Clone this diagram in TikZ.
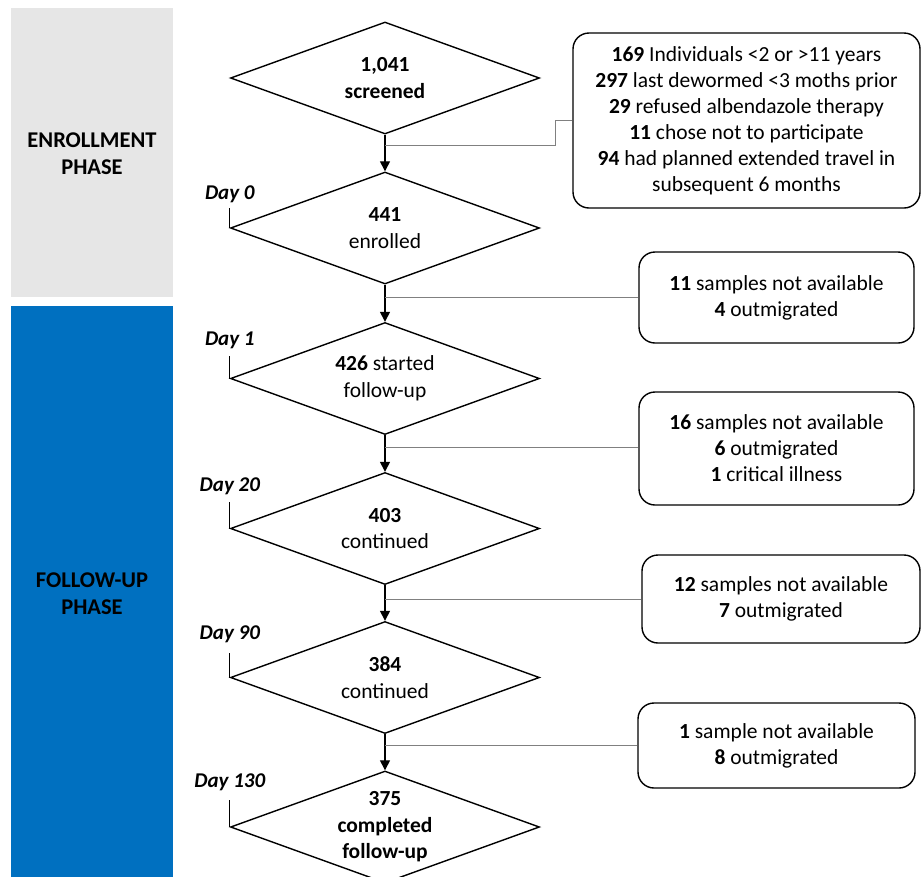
\documentclass[tikz,border=0pt]{standalone}
\usepackage{fontspec}
\setmainfont{Carlito}
\usetikzlibrary{shapes.geometric,arrows.meta}

\definecolor{phasegray}{HTML}{E6E6E6}
\definecolor{phaseblue}{HTML}{0070C0}

\begin{document}
\begin{tikzpicture}[x=1pt,y=-1pt,
        stage/.style={draw, diamond, aspect=2.76, line width=1.4pt, minimum width=309pt, minimum height=112pt, inner sep=0pt, align=center, font=\fontsize{21.5}{26.5}\selectfont},
        lossbox/.style={draw, rounded corners=16pt, line width=1.4pt, align=center, font=\fontsize{21.5}{26}\selectfont},
        flow/.style={line width=1.3pt, -{Triangle[length=10pt,width=10pt]}},
        branch/.style={draw=gray, line width=1pt},
        daylabel/.style={font=\bfseries\itshape\fontsize{21}{25}\selectfont, inner sep=2pt}]
        \clip (0,0) rectangle (921,876);
        
        % Phase boxes
        \node[fill=phasegray, minimum width=162pt, minimum height=289pt] (enrollphase) at (92,152.5) {};
        \node[align=center, font=\bfseries\fontsize{22.5}{27}\selectfont] at (92,153.5) {ENROLLMENT\\PHASE};
        \node[fill=phaseblue, minimum width=162pt, minimum height=580pt] (followphase) at (92,596) {};
        \node[align=center, font=\bfseries\fontsize{22.5}{27}\selectfont] at (92,593.5) {FOLLOW-UP\\PHASE};
        
        % Flow diamonds
        \node[stage] (screened) at (385,78) {\textbf{1,041}\\\textbf{screened}};
        \node[stage] (enrolled) at (385,228) {\textbf{441}\\enrolled};
        \node[stage] (started) at (385,378.5) {\textbf{426} started\\follow-up};
        \node[stage] (day20) at (385,528.5) {\textbf{403}\\continued};
        \node[stage] (day90) at (385,677.5) {\textbf{384}\\continued};
        \node[stage] (completed) at (385,827) {\textbf{375}\\\textbf{completed}\\\textbf{follow-up}};
        
        % Exclusion and loss boxes
        \node[lossbox, minimum width=347pt, minimum height=175pt] (excluded) at (746.5,120.5) {
            \textbf{169} Individuals <2 or >11 years\\
            \textbf{297} last dewormed <3 moths prior\\
            \textbf{29} refused albendazole therapy\\
            \textbf{11} chose not to participate\\
            \textbf{94} had planned extended travel in\\
            subsequent 6 months
        };
        \node[lossbox, minimum width=275pt, minimum height=91pt] (lost1) at (776.5,297.5) {
            \textbf{11} samples not available\\
            \textbf{4} outmigrated
        };
        \node[lossbox, minimum width=275pt, minimum height=113pt] (lost20) at (776.5,448.5) {
            \textbf{16} samples not available\\
            \textbf{6} outmigrated\\
            \textbf{1} critical illness
        };
        \node[lossbox, minimum width=278pt, minimum height=88pt] (lost90) at (781,599) {
            \textbf{12} samples not available\\
            \textbf{7} outmigrated
        };
        \node[lossbox, minimum width=277pt, minimum height=85pt] (lost130) at (776.5,745.5) {
            \textbf{1} sample not available\\
            \textbf{8} outmigrated
        };
        
        % Main flow
        \draw[flow] (screened.south) -- (enrolled.north);
        \draw[flow] (enrolled.south) -- (started.north);
        \draw[flow] (started.south) -- (day20.north);
        \draw[flow] (day20.south) -- (day90.north);
        \draw[flow] (day90.south) -- (completed.north);
        
        % Branches to the side boxes
        \coordinate (split0) at (385,145);
        \coordinate (split1) at (385,297);
        \coordinate (split20) at (385,447);
        \coordinate (split90) at (385,599);
        \coordinate (split130) at (385,745);
        \draw[branch] (split0) -- (555,145) |- (excluded.west);
        \draw[branch] (split1) -- (split1 -| lost1.west);
        \draw[branch] (split20) -- (split20 -| lost20.west);
        \draw[branch] (split90) -- (split90 -| lost90.west);
        \draw[branch] (split130) -- (split130 -| lost130.west);
        
        % Day markers
        \draw[line width=0.8pt] (enrolled.west) -- ++(0,-20) node[daylabel, above=3pt] {Day 0};
        \draw[line width=0.8pt] (started.west) -- ++(0,-23) node[daylabel, above=4pt] {Day 1};
        \draw[line width=0.8pt] (day20.west) -- ++(0,-27) node[daylabel, above=4pt] {Day 20};
        \draw[line width=0.8pt] (day90.west) -- ++(0,-25) node[daylabel, above=7pt] {Day 90};
        \draw[line width=0.8pt] (completed.west) -- ++(0,-27) node[daylabel, above=7pt] {Day 130};
        
    \end{tikzpicture}
\end{document}
